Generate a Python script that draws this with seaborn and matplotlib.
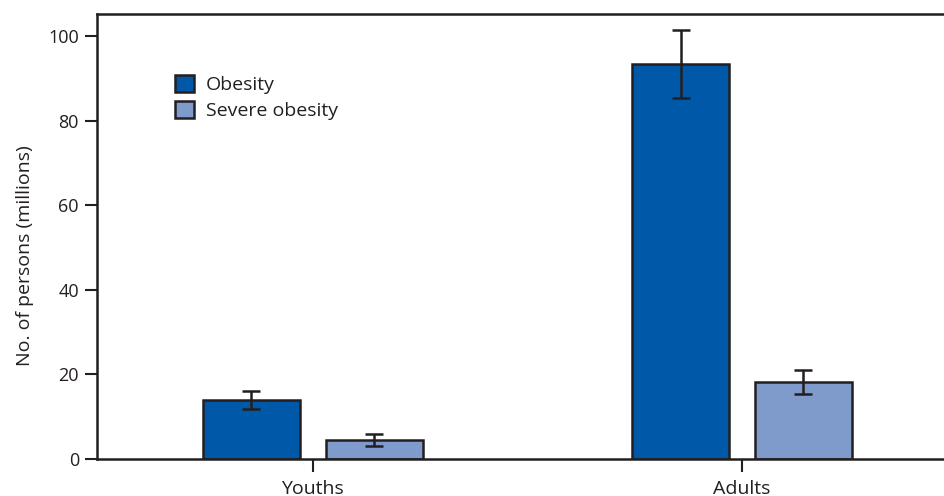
import pandas as pd
import numpy as np
import matplotlib.pyplot as plt
import seaborn as sns

# Datos (millones de personas)
grupos = ['Youths', 'Adults']
series = ['Obesity', 'Severe obesity']
obesidad = [13.9, 93.4]
obesidad_inf = [11.8, 85.3]
obesidad_sup = [16.1, 101.4]
severa = [4.4, 18.1]
severa_inf = [3.1, 15.4]
severa_sup = [5.9, 21.0]
colores = ['#0058A8', '#7F9BCB']

df = pd.DataFrame({
    'grupo': grupos * 2,
    'serie': [series[0]] * 2 + [series[1]] * 2,
    'valor': obesidad + severa,
    'inf': obesidad_inf + severa_inf,
    'sup': obesidad_sup + severa_sup,
})

sns.set_style('white')
plt.rcParams['font.family'] = ['Open Sans', 'DejaVu Sans']
oscuro = '#231F20'

fig = plt.figure(figsize=(9.45, 4.96), dpi=100)
ax = fig.add_axes([0.1026, 0.0746, 0.8974, 0.8972])

sns.barplot(data=df, x='grupo', y='valor', hue='serie', order=grupos,
            hue_order=series, palette=colores, saturation=1, width=0.573,
            gap=0.21, errorbar=None, edgecolor=oscuro, linewidth=1.8, ax=ax)

# Barras de error con las posiciones de las barras dibujadas
for i, s in enumerate(series):
    sub = df[df['serie'] == s].set_index('grupo').loc[grupos]
    cont = ax.containers[i]
    xs = [p.get_x() + p.get_width() / 2 for p in cont]
    yerr = [sub['valor'] - sub['inf'], sub['sup'] - sub['valor']]
    ax.errorbar(xs, sub['valor'], yerr=yerr, fmt='none', ecolor=oscuro,
                elinewidth=1.8, capsize=6.5, capthick=1.8, zorder=5)

ax.set_xlim(-0.503, 1.473)
ax.set_ylim(0, 105.2)
ax.set_yticks([0, 20, 40, 60, 80, 100])
ax.set_xlabel('')
ax.set_ylabel('No. of persons (millions)', fontsize=14, color=oscuro)
ax.yaxis.set_label_coords(-0.074, 0.458)

for lado in ['left', 'bottom', 'top']:
    ax.spines[lado].set_color(oscuro)
    ax.spines[lado].set_linewidth(1.8)
ax.spines['right'].set_visible(False)

ax.tick_params(axis='y', which='major', left=True, length=9, width=1.5,
               color=oscuro, labelsize=13, labelcolor=oscuro, pad=4)
ax.tick_params(axis='x', which='major', bottom=True, length=9, width=1.5,
               color=oscuro, labelsize=14, labelcolor=oscuro, pad=6)

leg = ax.legend(loc='upper left', bbox_to_anchor=(0.0915, 0.864), frameon=False,
                fontsize=14, handlelength=1.0, handleheight=1.0,
                handletextpad=0.6, labelspacing=0.35, borderaxespad=0,
                borderpad=0)
for h in leg.legend_handles:
    h.set_edgecolor(oscuro)
    h.set_linewidth(1.8)
for t in leg.get_texts():
    t.set_color(oscuro)

fig.savefig('out.png', dpi=100)
